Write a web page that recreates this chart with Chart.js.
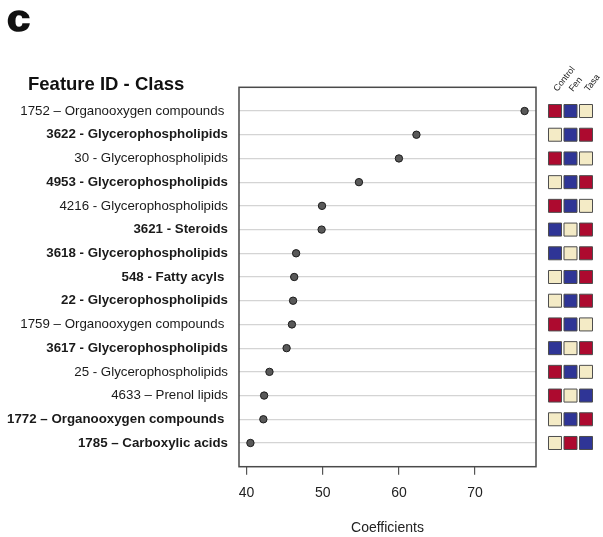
<!DOCTYPE html>
<html>
<head>
<meta charset="utf-8">
<script src="https://cdn.jsdelivr.net/npm/chart.js@4.4.1/dist/chart.umd.min.js"></script>
<style>
  body { margin: 0; background: #fff; font-family: "Liberation Sans", Arial, sans-serif; color: #111; }
  #wrap { position: relative; width: 603px; height: 537px; overflow: hidden; }
  #wrap canvas { position: absolute; top: 0; }
  #panel { position: absolute; left: 7px; top: 2px; font-size: 36px; line-height: 34px; font-weight: bold;
           -webkit-text-stroke: 1.5px #111; transform: scaleX(1.15); transform-origin: left top; }
  #listTitle { position: absolute; left: 28px; top: 74px; font-size: 18.5px; line-height: 20px; font-weight: bold; }
</style>
</head>
<body>
<div id="wrap">
  <canvas id="dotChart" width="603" height="537" style="left:0"></canvas>
  <canvas id="groupChart" width="63" height="537" style="left:540px"></canvas>
  <div id="panel">c</div>
  <div id="listTitle">Feature ID - Class</div>
</div>
<script>
// features, top to bottom
const features = [
  '1752 \u2013 Organooxygen compounds ',
  '3622 - Glycerophospholipids',
  '30 - Glycerophospholipids',
  '4953 - Glycerophospholipids',
  '4216 - Glycerophospholipids',
  '3621 - Steroids',
  '3618 - Glycerophospholipids',
  '548 - Fatty acyls ',
  '22 - Glycerophospholipids',
  '1759 \u2013 Organooxygen compounds ',
  '3617 - Glycerophospholipids',
  '25 - Glycerophospholipids',
  '4633 \u2013 Prenol lipids',
  '1772 \u2013 Organooxygen compounds ',
  '1785 \u2013 Carboxylic acids'
];
const emphasized = [false, true, false, true, false, true, true, true, true, false, true, false, false, true, true];
const coefficients = [76.5, 62.3, 60.0, 54.75, 49.9, 49.85, 46.5, 46.25, 46.1, 45.95, 45.25, 43.0, 42.3, 42.2, 40.5];
const xTicks = [40, 50, 60, 70];

// relative level per group: 1 = low, 2 = mid, 3 = high
const groups = ['Control', 'Fen', 'Tasa'];
const control = [3, 2, 3, 2, 3, 1, 1, 2, 2, 3, 1, 3, 3, 2, 2];
const fen     = [1, 1, 1, 1, 1, 2, 2, 1, 1, 1, 2, 1, 2, 1, 3];
const tasa    = [2, 3, 2, 3, 2, 3, 3, 3, 3, 2, 3, 2, 1, 3, 1];

const levelColors = { 1: '#2f3596', 2: '#f4ebc6', 3: '#ad0a2f' };
const rowTicks = features.map((_, i) => ({ value: i + 1 }));

// both charts share the row scale: rows 0..16 span the plot box
const PLOT_TOP = 87.3, AXIS_H = 70.3;
const ROW_PX = (537 - AXIS_H - PLOT_TOP) / 16;
const GROUP_MIN = 0.4;   // square column starts a bit lower to leave room for its labels

const frame = {
  id: 'frame',
  beforeDatasetsDraw(chart) {
    const { ctx, chartArea: a } = chart;
    ctx.save();
    ctx.strokeStyle = '#4a4a4a';
    ctx.lineWidth = 1.5;
    ctx.strokeRect(a.left, a.top, a.right - a.left, a.bottom - a.top);
    ctx.restore();
  }
};

new Chart(document.getElementById('dotChart'), {
  type: 'scatter',
  data: {
    datasets: [{
      data: coefficients.map((c, i) => ({ x: c, y: i + 1 })),
      pointRadius: 3.7,
      pointBackgroundColor: '#595959',
      pointBorderColor: '#1c1c1c',
      pointBorderWidth: 1
    }]
  },
  options: {
    responsive: false,
    animation: false,
    layout: { autoPadding: false, padding: { top: PLOT_TOP, right: 67, left: 0, bottom: 0 } },
    plugins: { legend: { display: false }, tooltip: { enabled: false } },
    scales: {
      x: {
        type: 'linear', min: 39, max: 78,
        afterBuildTicks: axis => { axis.ticks = xTicks.map(v => ({ value: v })); },
        afterFit: axis => { axis.height = AXIS_H; },
        grid: { drawOnChartArea: false, drawTicks: true, tickLength: 8, color: '#555', lineWidth: 1.2 },
        border: { display: false },
        ticks: { color: '#222', padding: 10, font: { family: 'Liberation Sans', size: 14 } },
        title: { display: true, text: 'Coefficients', color: '#222', padding: { top: 0, bottom: 0 },
                 font: { family: 'Liberation Sans', size: 14 } }
      },
      y: {
        type: 'linear', min: 0, max: 16, reverse: true,
        afterBuildTicks: axis => { axis.ticks = rowTicks.map(t => ({ ...t })); },
        afterFit: axis => { axis.width = 239; },
        grid: { color: '#d4d4d4', lineWidth: 1.2, drawTicks: false },
        border: { display: false },
        ticks: {
          padding: 11,
          color: '#1a1a1a',
          autoSkip: false,
          callback: v => features[v - 1] || '',
          font: ctx => ({ family: 'Liberation Sans', size: 13.3,
                          weight: emphasized[ctx.index] ? 'bold' : 'normal' })
        }
      }
    }
  },
  plugins: [frame]
});

// group level squares, one column per group
const cells = [];
[control, fen, tasa].forEach((levels, g) => {
  levels.forEach((v, i) => cells.push({ x: groups[g], y: i + 1, v }));
});

new Chart(document.getElementById('groupChart'), {
  type: 'scatter',
  data: {
    datasets: [{
      data: cells,
      pointStyle: 'rect',
      pointRadius: 9.2,
      pointBorderWidth: 1,
      pointBorderColor: '#4d4d4d',
      pointBackgroundColor: ctx => levelColors[ctx.raw ? ctx.raw.v : 2]
    }]
  },
  options: {
    responsive: false,
    animation: false,
    layout: { autoPadding: false, padding: { top: 0, left: 7.25, right: 9.25, bottom: AXIS_H } },
    plugins: { legend: { display: false }, tooltip: { enabled: false } },
    scales: {
      x: {
        type: 'category', labels: groups, position: 'top', offset: true,
        afterFit: axis => {
          axis.height = PLOT_TOP + GROUP_MIN * ROW_PX;
          axis.paddingLeft = 0; axis.paddingRight = 0;
        },
        grid: { display: false },
        border: { display: false },
        ticks: { autoSkip: false, minRotation: 52, maxRotation: 52, padding: -5, labelOffset: 9,
                 color: '#222', font: { family: 'Liberation Sans', size: 9 } }
      },
      y: { type: 'linear', min: GROUP_MIN, max: 16, reverse: true, display: false }
    }
  }
});
</script>
</body>
</html>
